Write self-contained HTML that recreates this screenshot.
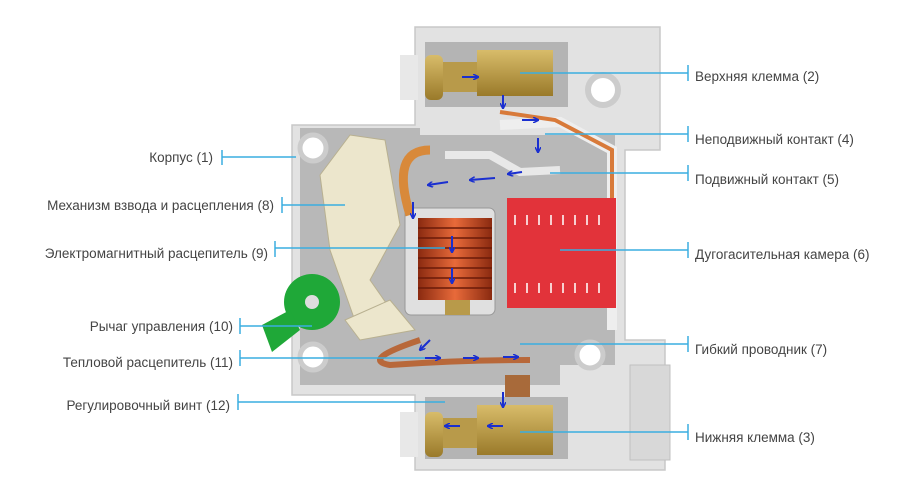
<!DOCTYPE html>
<html><head><meta charset="utf-8"><style>
html,body{margin:0;padding:0;background:#fff;width:900px;height:503px;overflow:hidden}
svg text{font-family:"Liberation Sans",sans-serif;font-size:13.5px;fill:#444}
</style></head><body>
<svg width="900" height="503" viewBox="0 0 900 503">
<defs>
<linearGradient id="cu" x1="0" y1="0" x2="1" y2="0"><stop offset="0" stop-color="#8a2a10"/><stop offset=".5" stop-color="#e86a3a"/><stop offset="1" stop-color="#8a2a10"/></linearGradient>
<linearGradient id="br" x1="0" y1="0" x2="0" y2="1"><stop offset="0" stop-color="#d8bc6a"/><stop offset="1" stop-color="#9a7a2a"/></linearGradient>
<marker id="m" markerWidth="6" markerHeight="6" refX="5" refY="3" orient="auto" markerUnits="userSpaceOnUse"><path d="M0,0 L6,3 L0,6" fill="none" stroke="#1a2fd0" stroke-width="1.5"/></marker>
</defs>
<path d="M415,27 H660 V150 H625 V340 H665 V470 H415 V395 H292 V125 H415 Z" fill="#e2e2e2" stroke="#c8c8c8" stroke-width="1.5"/>
<rect x="400" y="55" width="18" height="45" fill="#e8e8e8"/>
<rect x="400" y="412" width="18" height="45" fill="#e8e8e8"/>
<rect x="630" y="365" width="40" height="95" fill="#d8d8d8" stroke="#c0c0c0"/>
<rect x="425" y="42" width="143" height="65" fill="#b4b4b4"/>
<rect x="425" y="397" width="143" height="62" fill="#b4b4b4"/>
<path d="M300,128 H420 V135 H615 V365 H560 V385 H300 Z" fill="#b8b8b8"/>
<path d="M500,125 L560,122 L612,150 V330" fill="none" stroke="#eee" stroke-width="10"/>
<circle cx="603" cy="90" r="15" fill="#fff" stroke="#ccc" stroke-width="6"/>
<circle cx="313" cy="148" r="13" fill="#fff" stroke="#ccc" stroke-width="5"/>
<circle cx="313" cy="357" r="13" fill="#fff" stroke="#ccc" stroke-width="5"/>
<circle cx="590" cy="355" r="13" fill="#fff" stroke="#ccc" stroke-width="5"/>
<path d="M500,112 L555,120 L612,150 V300" fill="none" stroke="#d87a3a" stroke-width="4"/>
<rect x="425" y="55" width="18" height="45" rx="6" fill="url(#br)"/>
<rect x="443" y="62" width="36" height="30" fill="#b89a4a"/>
<rect x="477" y="50" width="76" height="46" fill="url(#br)"/>
<rect x="425" y="412" width="18" height="45" rx="6" fill="url(#br)"/>
<rect x="443" y="418" width="36" height="30" fill="#b89a4a"/>
<rect x="477" y="405" width="76" height="50" fill="url(#br)"/>
<rect x="505" y="375" width="25" height="22" fill="#a86a3a"/>
<rect x="507" y="198" width="109" height="110" fill="#e2333a"/>
<g stroke="#f8d0d0" stroke-width="2"><line x1="515" y1="215" x2="515" y2="225"/><line x1="527" y1="215" x2="527" y2="225"/><line x1="539" y1="215" x2="539" y2="225"/><line x1="551" y1="215" x2="551" y2="225"/><line x1="563" y1="215" x2="563" y2="225"/><line x1="575" y1="215" x2="575" y2="225"/><line x1="587" y1="215" x2="587" y2="225"/><line x1="599" y1="215" x2="599" y2="225"/>
<line x1="515" y1="283" x2="515" y2="293"/><line x1="527" y1="283" x2="527" y2="293"/><line x1="539" y1="283" x2="539" y2="293"/><line x1="551" y1="283" x2="551" y2="293"/><line x1="563" y1="283" x2="563" y2="293"/><line x1="575" y1="283" x2="575" y2="293"/><line x1="587" y1="283" x2="587" y2="293"/><line x1="599" y1="283" x2="599" y2="293"/></g>
<rect x="405" y="208" width="90" height="107" rx="6" fill="#e0e0e0" stroke="#999"/>
<rect x="418" y="218" width="74" height="82" fill="url(#cu)"/>
<g stroke="#6a1a08" stroke-width="1.5"><line x1="418" y1="228" x2="492" y2="228"/><line x1="418" y1="238" x2="492" y2="238"/><line x1="418" y1="248" x2="492" y2="248"/><line x1="418" y1="258" x2="492" y2="258"/><line x1="418" y1="268" x2="492" y2="268"/><line x1="418" y1="278" x2="492" y2="278"/><line x1="418" y1="288" x2="492" y2="288"/></g>
<rect x="445" y="300" width="25" height="15" fill="#b89a4a"/>
<path d="M410,215 Q390,150 430,150" fill="none" stroke="#d8893a" stroke-width="9"/>
<path d="M445,155 H490 L520,172 L560,170" fill="none" stroke="#e8e8e8" stroke-width="8"/>
<path d="M420,340 Q360,360 390,365 Q460,360 530,360" fill="none" stroke="#b8683a" stroke-width="6"/>
<path d="M320,175 L350,135 L385,140 L400,225 L370,280 L405,330 L360,335 L330,250 Z" fill="#ece6cc" stroke="#b8b090"/>
<path d="M345,320 L390,300 L415,330 L360,340 Z" fill="#ece6cc" stroke="#b8b090"/>
<circle cx="312" cy="302" r="28" fill="#1fa838"/>
<path d="M290,310 L262,325 L272,352 L300,330 Z" fill="#1fa838"/>
<circle cx="312" cy="302" r="7" fill="#ddd"/>
<!-- flow arrows -->
<g stroke="#1a2fd0" stroke-width="2" marker-end="url(#m)">
<line x1="462" y1="77" x2="478" y2="77"/>
<line x1="503" y1="95" x2="503" y2="108"/>
<line x1="522" y1="120" x2="538" y2="120"/>
<line x1="538" y1="138" x2="538" y2="152"/>
<line x1="522" y1="172" x2="508" y2="174"/>
<line x1="495" y1="178" x2="470" y2="180"/>
<line x1="448" y1="182" x2="428" y2="185"/>
<line x1="413" y1="202" x2="413" y2="218"/>
<line x1="452" y1="236" x2="452" y2="252"/>
<line x1="452" y1="268" x2="452" y2="283"/>
<line x1="430" y1="340" x2="420" y2="350"/>
<line x1="425" y1="358" x2="440" y2="358"/>
<line x1="463" y1="358" x2="478" y2="358"/>
<line x1="503" y1="357" x2="518" y2="357"/>
<line x1="503" y1="392" x2="503" y2="407"/>
<line x1="503" y1="426" x2="488" y2="426"/>
<line x1="460" y1="426" x2="445" y2="426"/>
</g>
<g stroke="#3aaee0" stroke-width="1.5">
<line x1="222" y1="157" x2="296" y2="157"/><line x1="222" y1="150" x2="222" y2="165"/>
<line x1="282" y1="205" x2="345" y2="205"/><line x1="282" y1="197" x2="282" y2="213"/>
<line x1="275" y1="248" x2="445" y2="248"/><line x1="275" y1="241" x2="275" y2="257"/>
<line x1="240" y1="326" x2="312" y2="326"/><line x1="240" y1="318" x2="240" y2="334"/>
<line x1="240" y1="358" x2="425" y2="358"/><line x1="240" y1="350" x2="240" y2="366"/>
<line x1="238" y1="402" x2="445" y2="402"/><line x1="238" y1="394" x2="238" y2="410"/>
<line x1="520" y1="73" x2="688" y2="73"/><line x1="688" y1="65" x2="688" y2="81"/>
<line x1="545" y1="134" x2="688" y2="134"/><line x1="688" y1="126" x2="688" y2="142"/>
<line x1="550" y1="173" x2="688" y2="173"/><line x1="688" y1="165" x2="688" y2="181"/>
<line x1="560" y1="250" x2="688" y2="250"/><line x1="688" y1="242" x2="688" y2="258"/>
<line x1="520" y1="344" x2="688" y2="344"/><line x1="688" y1="336" x2="688" y2="352"/>
<line x1="520" y1="432" x2="688" y2="432"/><line x1="688" y1="424" x2="688" y2="440"/>
</g>
<g text-anchor="end">
<text x="213" y="162">Корпус (1)</text>
<text x="274" y="210">Механизм взвода и расцепления (8)</text>
<text x="268" y="258">Электромагнитный расцепитель (9)</text>
<text x="233" y="331">Рычаг управления (10)</text>
<text x="233" y="367">Тепловой расцепитель (11)</text>
<text x="230" y="410">Регулировочный винт (12)</text>
</g>
<text x="695" y="81">Верхняя клемма (2)</text>
<text x="695" y="144">Неподвижный контакт (4)</text>
<text x="695" y="184">Подвижный контакт (5)</text>
<text x="695" y="259">Дугогасительная камера (6)</text>
<text x="695" y="354">Гибкий проводник (7)</text>
<text x="695" y="442">Нижняя клемма (3)</text>
</svg>
</body></html>
